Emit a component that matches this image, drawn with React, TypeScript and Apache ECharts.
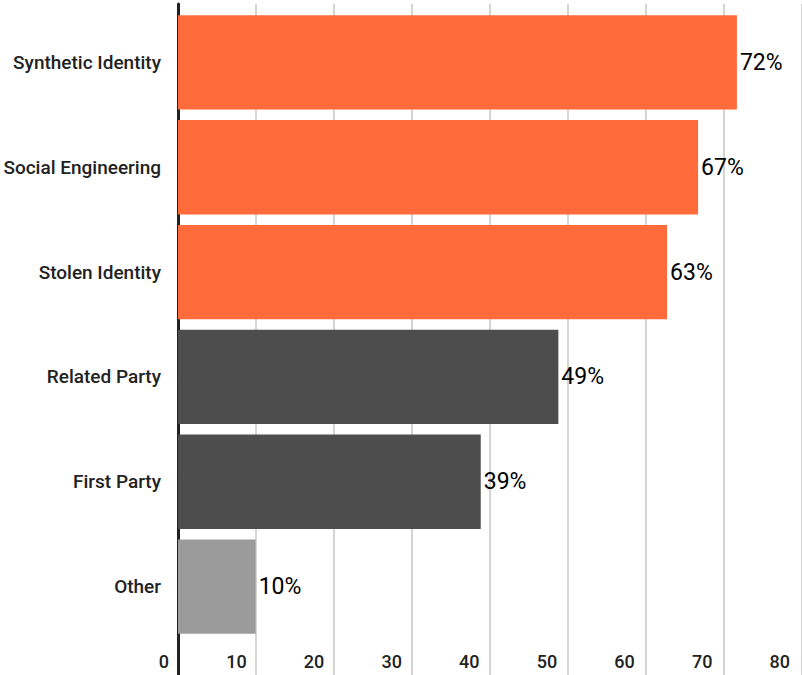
import React, { useEffect, useRef } from "react";
import * as echarts from "echarts";

const categories = [
  "Synthetic Identity",
  "Social Engineering",
  "Stolen Identity",
  "Related Party",
  "First Party",
  "Other",
];
const values = [72, 67, 63, 49, 39, 10];
const groups = ["top", "top", "top", "mid", "mid", "low"];
const xTicks = { min: 0, max: 80, interval: 10 };

const palette: Record<string, string> = {
  top: "#FF6B3A",
  mid: "#4D4D4D",
  low: "#9B9B9B",
};

export default function App() {
  const ref = useRef<HTMLDivElement>(null);
  useEffect(() => {
    if (!ref.current) return;
    const chart = echarts.init(ref.current, undefined, { renderer: "svg" });
    const left = 178;
    const width = 625;
    chart.setOption({
      animation: false,
      backgroundColor: "#ffffff",
      textStyle: { fontFamily: "Roboto" },
      grid: [
        { left, width, top: 4, bottom: 0, containLabel: false },
        { left, width, top: 10, bottom: 36, containLabel: false },
      ],
      xAxis: [
        {
          gridIndex: 0,
          type: "value",
          min: xTicks.min,
          max: xTicks.max,
          interval: xTicks.interval,
          axisLabel: { show: false },
          axisLine: { show: false },
          axisTick: { show: false },
          splitLine: { show: true, lineStyle: { color: "#d4d4d4", width: 2 } },
        },
        {
          gridIndex: 1,
          type: "value",
          min: xTicks.min,
          max: xTicks.max,
          interval: xTicks.interval,
          axisLine: { show: false },
          axisTick: { show: false },
          splitLine: { show: false },
          axisLabel: {
            show: true,
            align: "right",
            padding: [0, 9, 0, 0],
            margin: 13,
            fontSize: 18,
            lineHeight: 18,
            fontWeight: 500,
            color: "#222222",
            fontFamily: "Roboto",
          },
        },
      ],
      yAxis: [
        {
          gridIndex: 0,
          type: "value",
          axisLabel: { show: false },
          axisTick: { show: false },
          splitLine: { show: false },
          axisLine: { show: true, onZero: false, lineStyle: { color: "#212121", width: 3 } },
        },
        {
          gridIndex: 1,
          type: "category",
          inverse: true,
          data: categories,
          axisLine: { show: false },
          axisTick: { show: false },
          splitLine: { show: false },
          axisLabel: {
            margin: 17,
            fontSize: 19,
            fontWeight: 500,
            color: "#222222",
            fontFamily: "Roboto",
          },
        },
      ],
      series: [
        {
          type: "bar",
          xAxisIndex: 1,
          yAxisIndex: 1,
          z: 3,
          barCategoryGap: "10%",
          data: values.map((v, i) => ({
            value: v,
            itemStyle: { color: palette[groups[i]] },
          })),
          label: {
            show: true,
            position: "right",
            distance: 3,
            formatter: "{c}%",
            fontSize: 23,
            color: "#000000",
            fontFamily: "Roboto",
          },
        },
      ],
    });
    return () => chart.dispose();
  }, []);
  return (
    <div
      ref={ref}
      style={{ position: "absolute", left: 0, top: 0, width: 802, height: 675 }}
    />
  );
}
